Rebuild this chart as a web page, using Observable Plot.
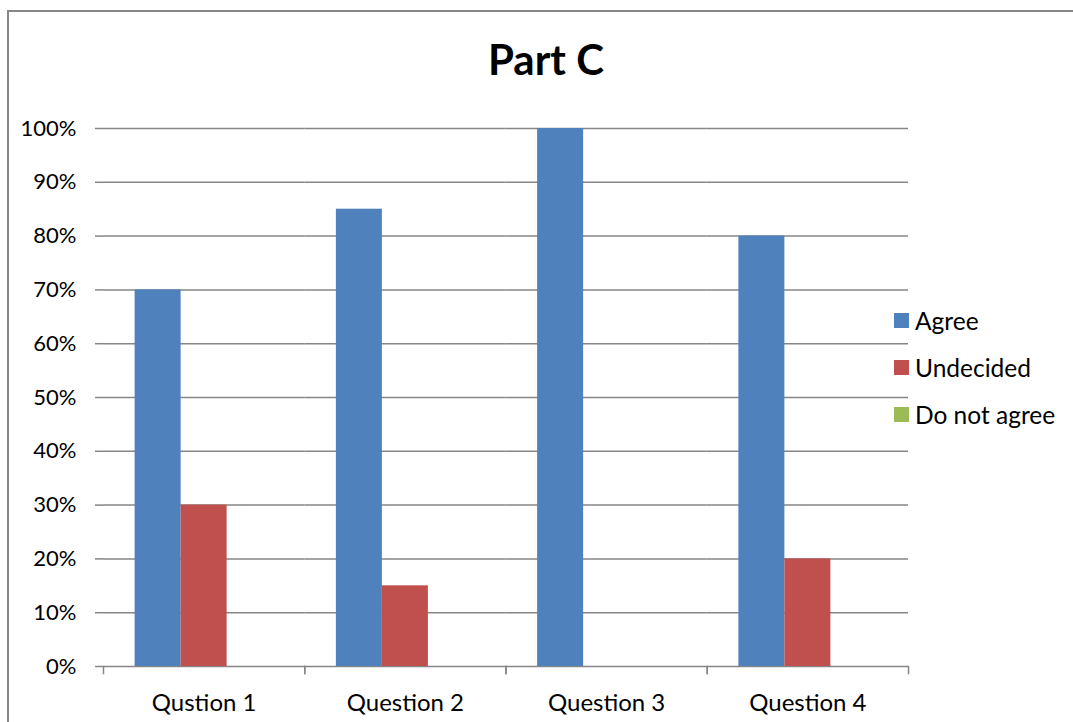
<!DOCTYPE html>
<html>
<head>
<meta charset="utf-8">
<script src="https://cdn.jsdelivr.net/npm/d3@7"></script>
<script src="https://cdn.jsdelivr.net/npm/@observablehq/plot@0.6"></script>
<style>
  html, body { margin: 0; padding: 0; background: #fff; }
  #chart { position: relative; width: 1073px; height: 722px; overflow: hidden;
           font-family: Lato, "Open Sans", sans-serif; color: #000; }
  #border { position: absolute; left: 7px; top: 10px; width: 1200px; height: 900px;
            border-left: 2px solid #878787; border-top: 2px solid #878787; }
  #plot { position: absolute; left: 0; top: 0; }
  #title { position: absolute; left: 0; width: 1092px; top: 33px; text-align: center;
           font-weight: bold; font-size: 42px; line-height: 52px; }
  #legend { position: absolute; left: 894px; top: 297px; }
  .row { display: flex; align-items: center; height: 47px; font-size: 24.5px; }
  .sw { width: 15px; height: 15px; margin-right: 6px; }
</style>
</head>
<body>
<div id="chart">
  <div id="border"></div>
  <div id="plot"></div>
  <div id="title">Part C</div>
  <div id="legend"></div>
</div>
<script>
// Survey responses per question, in percent
const questions = ["Qustion 1", "Question 2", "Question 3", "Question 4"];
const responses = ["Agree", "Undecided", "Do not agree"];
const agree = [70, 85, 100, 80];
const undecided = [30, 15, 0, 20];
const doNotAgree = [0, 0, 0, 0];
const colors = ["#4F81BD", "#C0504D", "#9BBB59"];
const yTicks = [0, 10, 20, 30, 40, 50, 60, 70, 80, 90, 100];

const series = [agree, undecided, doNotAgree];
const rows = questions.flatMap((q, i) =>
  responses.map((r, j) => ({question: q, response: r, value: series[j][i]}))
);

const width = 1073, height = 722;
const marginTop = 128, marginBottom = 56, marginLeft = 103, marginRight = 165;
const plotHeight = height - marginTop - marginBottom;
const gridColor = "#868686";
const tickLength = 7;

const chart = Plot.plot({
  width, height, marginTop, marginBottom, marginLeft, marginRight,
  style: {fontFamily: "Lato, 'Open Sans', sans-serif", fontSize: "24px", color: "#000", background: "transparent"},
  facet: {data: rows, x: "question"},
  fx: {domain: questions, padding: 0, round: false, label: null, tickSize: 0, tickPadding: 27, axis: "bottom"},
  x: {domain: responses, paddingInner: 0, paddingOuter: 0.6875, round: false, axis: null},
  y: {domain: [0, 100], label: null},
  color: {domain: responses, range: colors},
  marks: [
    Plot.gridY(yTicks, {stroke: gridColor, strokeOpacity: 1, strokeWidth: 1.5}),
    Plot.axisY(yTicks, {tickFormat: d => d + "%", tickSize: 8, tickPadding: 19, fontSize: 22,
      stroke: gridColor, strokeOpacity: 1, strokeWidth: 1.5, line: true, label: null, fill: "#000"}),
    // small ticks under the axis at the group boundaries
    Plot.frame({anchor: "left", insetTop: plotHeight, insetBottom: -tickLength, stroke: gridColor, strokeWidth: 1.5}),
    Plot.frame({anchor: "right", insetTop: plotHeight, insetBottom: -tickLength, stroke: gridColor, strokeWidth: 1.5}),
    Plot.barY(rows, {x: "response", y: "value", fill: "response"})
  ]
});
document.getElementById("plot").appendChild(chart);

// Legend swatches
const legend = document.getElementById("legend");
responses.forEach((r, i) => {
  const row = document.createElement("div");
  row.className = "row";
  const sw = document.createElement("div");
  sw.className = "sw";
  sw.style.background = colors[i];
  const label = document.createElement("span");
  label.textContent = r;
  row.appendChild(sw);
  row.appendChild(label);
  legend.appendChild(row);
});
</script>
</body>
</html>
